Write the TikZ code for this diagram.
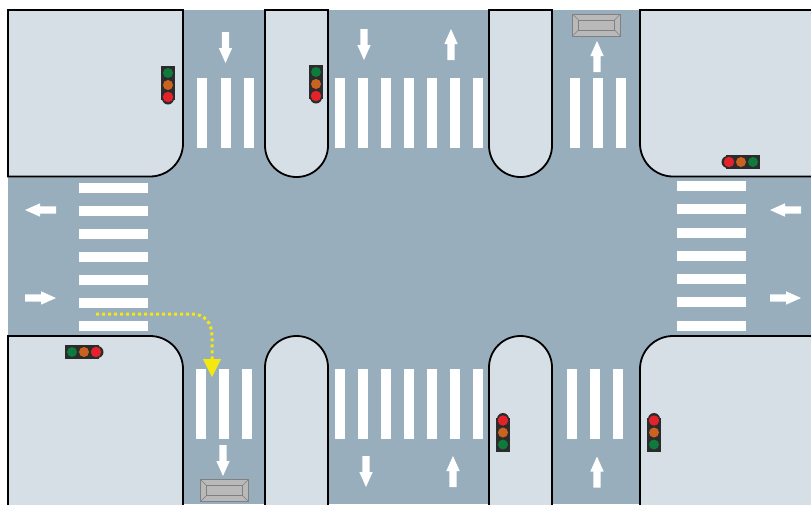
\documentclass[tikz,border=0pt]{standalone}
\definecolor{roadgrey}{HTML}{98AEBC}
\definecolor{kerbgrey}{HTML}{D7DFE6}
\definecolor{turnyellow}{HTML}{F4E90F}
\definecolor{signalbody}{HTML}{2B2B2B}
\definecolor{signalred}{HTML}{E5222B}
\definecolor{signalorange}{HTML}{C9631F}
\definecolor{signalgreen}{HTML}{0E7A3C}
\definecolor{sensorgrey}{HTML}{B9B9B9}
\tikzset{
  block/.style={fill=kerbgrey, draw=black, line width=1.8pt, rounded corners=33pt},
  island/.style={fill=kerbgrey, draw=black, line width=1.8pt, rounded corners=31.5pt},
  bar/.style={fill=white},
  turnline/.style={turnyellow, line width=3pt, dash pattern=on 3pt off 3pt},
  pics/roadarrow/.style={code={
    \fill[white] (-3.7,-15.5) -- (3.7,-15.5) -- (3.7,0.5) -- (6.7,0.5) -- (0,15.5) -- (-6.7,0.5) -- (-3.7,0.5) -- cycle;
  }},
  pics/signal/.style={code={
    \fill[signalbody] (-7,-19) rectangle (7,15);
    \fill[signalbody] (0,13.5) circle (6);
    \fill[signalgreen] (0,-12) circle (5);
    \fill[signalorange] (0,0) circle (5);
    \fill[signalred] (0,12) circle (5.2);
  }},
  pics/sensor/.style={code={
    \draw[gray, fill=sensorgrey] (-24,-11) rectangle (24,11);
    \draw[gray] (-18,-5) rectangle (18,5);
    \draw[gray] (-24,-11) -- (-18,-5) (24,-11) -- (18,-5) (-24,11) -- (-18,5) (24,11) -- (18,5);
  }}
}
\begin{document}
\begin{tikzpicture}[x=1pt, y=-1pt]
  \useasboundingbox (0,0) rectangle (811,504);
  \clip (0,0) rectangle (811,504);
  \fill[white] (0,0) rectangle (811,504);
  \fill[roadgrey] (8,10) rectangle (811,504);

  % corner blocks
  \draw[block] (8,10) [sharp corners] -- (183,10) [rounded corners=33pt] -- (183,176.5) [sharp corners] -- (8,176.5) -- cycle;
  \draw[block] (816,10) [sharp corners] -- (640,10) [rounded corners=33pt] -- (640,176.5) [sharp corners] -- (816,176.5) -- cycle;
  \draw[block] (8,510) [sharp corners] -- (183,510) [rounded corners=33pt] -- (183,336) [sharp corners] -- (8,336) -- cycle;
  \draw[block] (816,510) [sharp corners] -- (640,510) [rounded corners=33pt] -- (640,336) [sharp corners] -- (816,336) -- cycle;

  % islands
  \draw[island] (265,10) [sharp corners] -- (265,10) [rounded corners=31.5pt] -- (265,177) -- (328,177) [sharp corners] -- (328,10) -- cycle;
  \draw[island] (489,10) [sharp corners] -- (489,10) [rounded corners=31.5pt] -- (489,177) -- (552,177) [sharp corners] -- (552,10) -- cycle;
  \draw[island] (265,510) [sharp corners] -- (265,510) [rounded corners=31.5pt] -- (265,336) -- (328,336) [sharp corners] -- (328,510) -- cycle;
  \draw[island] (489,510) [sharp corners] -- (489,510) [rounded corners=31.5pt] -- (489,336) -- (552,336) [sharp corners] -- (552,510) -- cycle;

  % crossings
  \foreach \x in {197,220.5,243.5,570,593,616}
    \fill[bar] (\x,78) rectangle +(10,70);
  \foreach \x in {335,358,381,404,427,450,473}{
    \fill[bar] (\x,78) rectangle +(10,70);
    \fill[bar] (\x,369) rectangle +(10,70);
  }
  \foreach \x in {196,219,242,567,590,612.5}
    \fill[bar] (\x,369) rectangle +(10,70);
  \foreach \y in {183,206,229,252,275,298,321}
    \fill[bar] (79,\y) rectangle +(69,10);
  \foreach \y in {181,204,228,251,274,297,320.5}
    \fill[bar] (677,\y) rectangle +(69,10);

  % lane arrows
  \pic at (225.5,47.5) {roadarrow};
  \pic at (364,44.5) {roadarrow};
  \pic[rotate=180] at (451,44.5) {roadarrow};
  \pic[rotate=180] at (597,56.5) {roadarrow};
  \pic at (223,460.5) {roadarrow};
  \pic at (366,471.5) {roadarrow};
  \pic[rotate=180] at (453,471.5) {roadarrow};
  \pic[rotate=180] at (597,472) {roadarrow};
  \pic[rotate=-90] at (40.5,210) {roadarrow};
  \pic[rotate=90] at (40.5,298) {roadarrow};
  \pic[rotate=-90] at (785.5,210) {roadarrow};
  \pic[rotate=90] at (785.5,298) {roadarrow};

  % signals
  \pic at (168,85) {signal};
  \pic at (316,84) {signal};
  \pic[rotate=-90] at (741,162) {signal};
  \pic[rotate=90] at (84,352) {signal};
  \pic[rotate=180] at (503,432.5) {signal};
  \pic[rotate=180] at (654,432.5) {signal};

  % sensors
  \pic at (596.5,25) {sensor};
  \pic at (224.5,490.5) {sensor};

  % turning path
  \coordinate (turnstart) at (96,314);
  \coordinate (turnend) at (212,359);
  \draw[turnline] (turnstart) -- (192,314) .. controls (204,314) and (212,322) .. (212,336) -- (turnend);
  \fill[turnyellow] (203,359) -- (221,359) -- (212,377) -- cycle;
\end{tikzpicture}
\end{document}
